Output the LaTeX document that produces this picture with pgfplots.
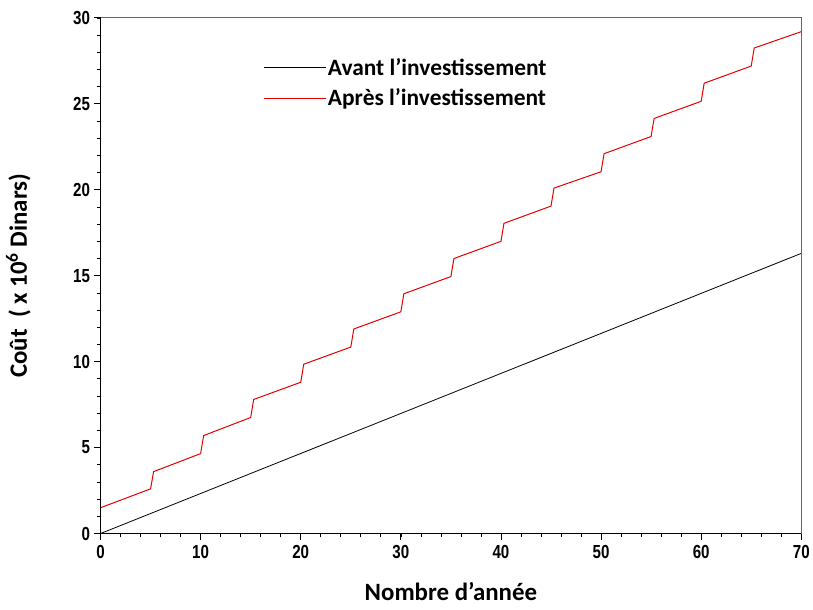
\documentclass[border=0pt]{standalone}
\usepackage{fontspec}
\setmainfont{Carlito}
\newfontfamily\narrowfont[FakeStretch=0.8]{Liberation Sans}
\usepackage{pgfplots}
\pgfplotsset{compat=1.18}
\begin{document}
\begin{tikzpicture}
\begin{axis}[
  at={(0,0)}, anchor=south west,
  scale only axis, width=704pt, height=518pt,
  xmin=0, xmax=70, ymin=0, ymax=30,
  xtick={0,10,...,70}, ytick={0,5,...,30},
  minor xtick={0,2,...,70}, minor ytick={0,1,...,30},
  axis x line*=bottom, axis y line*=left,
  tick align=outside,
  major tick length=7pt, minor tick length=4pt,
  every tick/.style={black, line width=0.9pt},
  every minor tick/.style={black, line width=0.7pt},
  axis line style={line width=1.1pt},
  /pgf/number format/assume math mode=true,
  ticklabel style={font=\fontsize{19}{21}\selectfont\narrowfont\bfseries},
  xticklabel style={yshift=-1pt},
  xlabel={Nombre d'année},
  ylabel={Coût\ \ ( x 10\textsuperscript{6} Dinars)},
  label style={font=\fontsize{25}{28}\selectfont\bfseries},
  xlabel style={yshift=-17pt},
  ylabel style={yshift=36pt},
  legend style={draw=none, fill=none, at={(0.228,0.93)}, anchor=north west,
    font=\fontsize{23.5}{26}\selectfont\bfseries, row sep=8pt,
    nodes={inner sep=2pt}},
  legend cell align=left,
  legend image code/.code={\draw[#1, line width=0.8pt] (0pt,0pt) -- (62pt,0pt);},
]
\addplot[black, line width=0.8pt] coordinates {(0,0) (70,16.3)};
\addlegendentry{Avant l'investissement}
\addplot[red!90!black, line width=1pt] coordinates {
(0,1.5) (5,2.6) (5.3,3.6) (10,4.65) (10.3,5.7) (15,6.75) (15.3,7.8)
(20,8.8) (20.3,9.85) (25,10.85) (25.3,11.9) (30,12.9) (30.3,13.95)
(35,14.95) (35.3,16.0) (40,17.0) (40.3,18.05) (45,19.05) (45.3,20.1)
(50,21.05) (50.3,22.1) (55,23.1) (55.3,24.15) (60,25.15) (60.3,26.2)
(65,27.2) (65.3,28.25) (70,29.2)};
\addlegendentry{Après l'investissement}
\end{axis}
\draw[gray!80!black, line width=1.1pt] (0,518pt) -- (704pt,518pt) -- (704pt,0);
\path[use as bounding box] (-101pt,-76pt) rectangle (712pt,536pt);
\end{tikzpicture}
\end{document}
